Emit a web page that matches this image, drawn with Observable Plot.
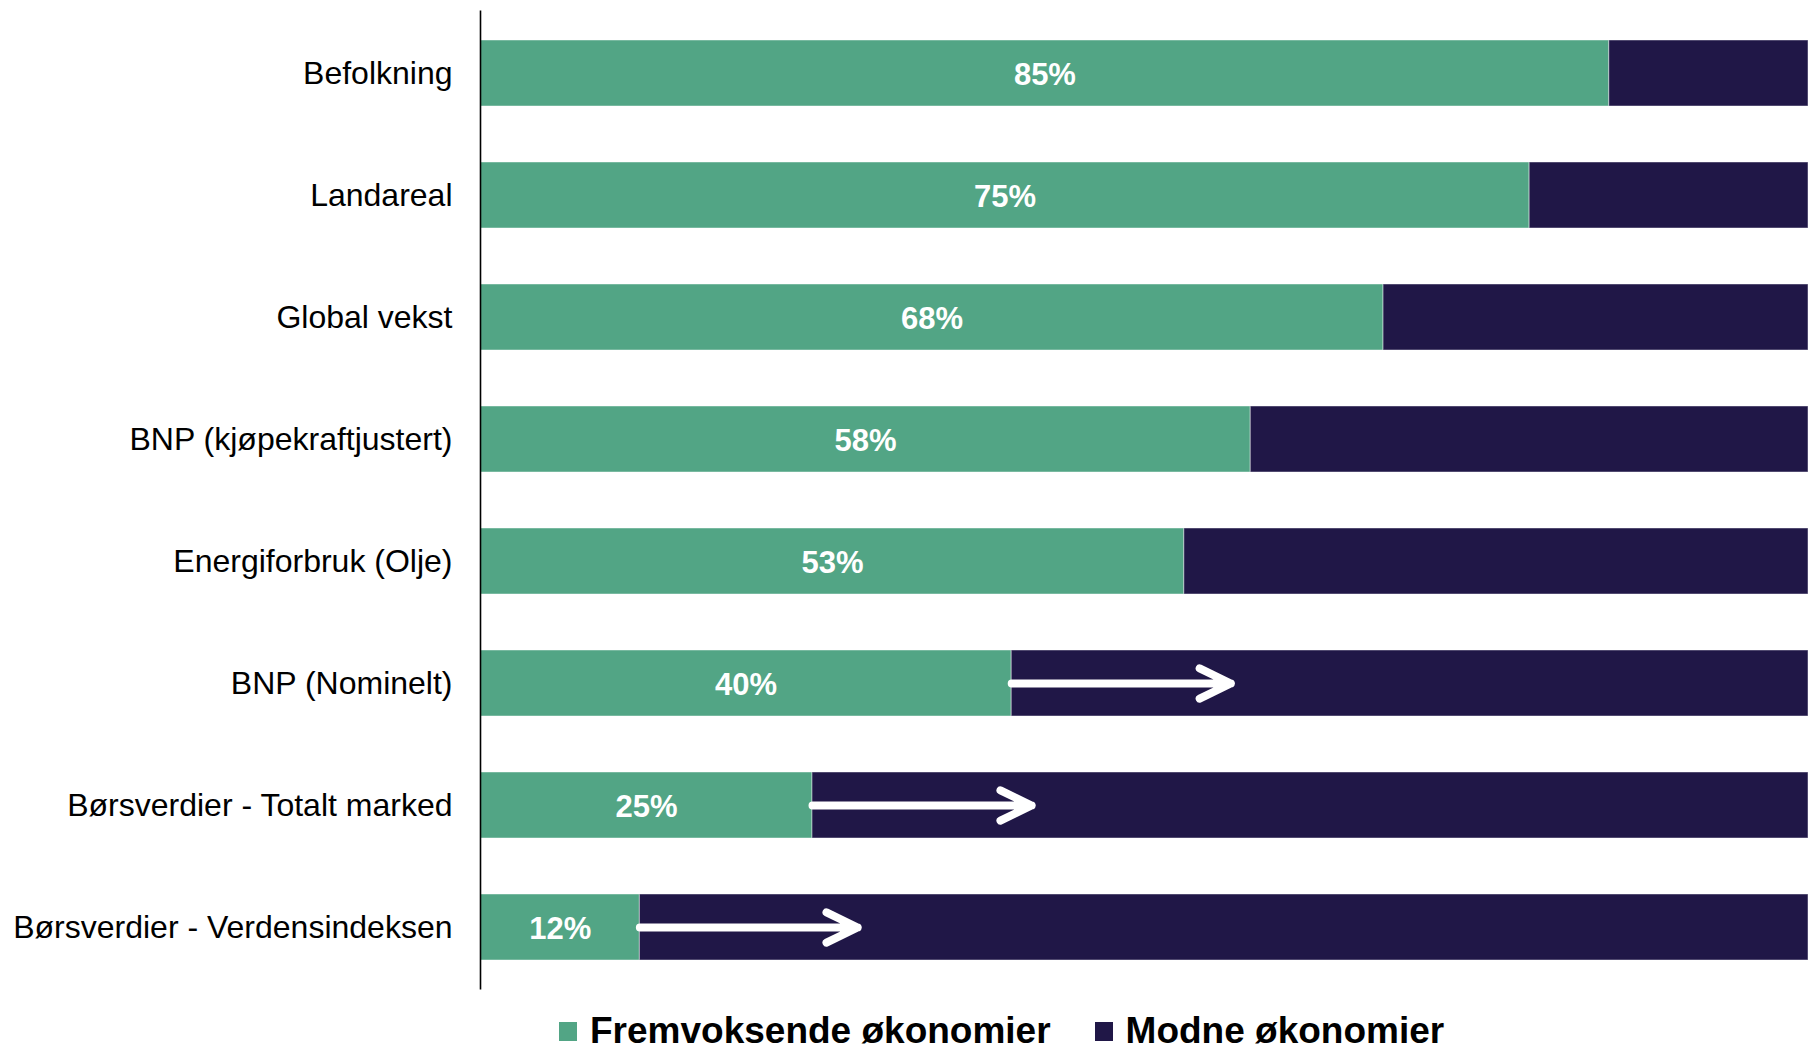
<!DOCTYPE html>
<html>
<head>
<meta charset="utf-8">
<script src="https://cdn.jsdelivr.net/npm/d3@7"></script>
<script src="https://cdn.jsdelivr.net/npm/@observablehq/plot@0.6"></script>
<style>
  html, body { margin: 0; padding: 0; background: #ffffff; overflow: hidden; }
  body { width: 1808px; height: 1047px; font-family: "Liberation Sans", Arial, sans-serif; }
  #chart svg { display: block; }
  .legend { display: flex; align-items: center; margin-left: 559px; margin-top: 11px; height: 40px;
            font-family: "Liberation Sans", Arial, sans-serif; font-weight: bold; font-size: 37px; color: #000; }
  .legend .sw { width: 18px; height: 19px; display: inline-block; margin-right: 13px; }
  .legend .item { display: flex; align-items: center; margin-right: 44px; line-height: 40px; }
</style>
</head>
<body>
<div id="chart"></div>
<div class="legend" id="legend"></div>
<script>
const categories = [
  "Befolkning",
  "Landareal",
  "Global vekst",
  "BNP (kjøpekraftjustert)",
  "Energiforbruk (Olje)",
  "BNP (Nominelt)",
  "Børsverdier - Totalt marked",
  "Børsverdier - Verdensindeksen"
];
const emerging = [85, 79, 68, 58, 53, 40, 25, 12];
const valueLabels = ["85%", "75%", "68%", "58%", "53%", "40%", "25%", "12%"];
const arrowEnds = [null, null, null, null, null, 56.5, 41.5, 28.4];
const seriesNames = ["Fremvoksende økonomier", "Modne økonomier"];
const seriesColors = ["#52a585", "#201747"];

const rows = categories.map((c, i) => ({
  cat: c, em: emerging[i], label: valueLabels[i], arrowEnd: arrowEnds[i]
}));
const arrows = rows.filter(d => d.arrowEnd != null);

const chart = Plot.plot({
  width: 1808,
  height: 1000,
  marginLeft: 480,
  marginRight: 0,
  marginTop: 10.4,
  marginBottom: 10.4,
  style: { fontFamily: "'Liberation Sans', Arial, sans-serif", background: "#ffffff" },
  x: { domain: [0, 100], axis: null },
  y: { domain: categories, paddingInner: 0.46, paddingOuter: 0.23, label: null },
  marks: [
    Plot.barX(rows, { y: "cat", x1: 0, x2: "em", fill: seriesColors[0], stroke: "#ffffff", strokeOpacity: 0.45, strokeWidth: 1 }),
    Plot.barX(rows, { y: "cat", x1: "em", x2: 100, fill: seriesColors[1], stroke: "#ffffff", strokeOpacity: 0.45, strokeWidth: 1 }),
    Plot.text(rows, { y: "cat", x: d => d.em / 2, text: "label", fill: "#ffffff", fontSize: 31, fontWeight: "bold", dy: 2 }),
    Plot.arrow(arrows, { y1: "cat", y2: "cat", x1: "em", x2: "arrowEnd", stroke: "#ffffff", strokeWidth: 8, headLength: 6.5, headAngle: 52, strokeLinecap: "round", strokeLinejoin: "round" }),
    Plot.axisY({ tickSize: 0, tickPadding: 28, fontSize: 32, fill: "#000000", label: null }),
    Plot.ruleX([0], { stroke: "#000000", strokeWidth: 1.6 })
  ]
});
document.getElementById("chart").appendChild(chart);

const legend = document.getElementById("legend");
seriesNames.forEach((name, i) => {
  const item = document.createElement("div");
  item.className = "item";
  const sw = document.createElement("span");
  sw.className = "sw";
  sw.style.background = seriesColors[i];
  const t = document.createElement("span");
  t.textContent = name;
  item.appendChild(sw);
  item.appendChild(t);
  legend.appendChild(item);
});
</script>
</body>
</html>
